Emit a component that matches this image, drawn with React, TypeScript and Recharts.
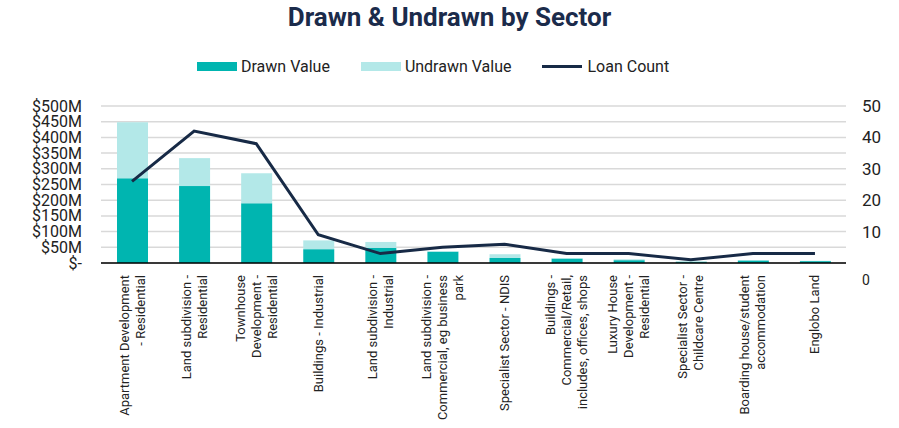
import { ComposedChart, Bar, Line, XAxis, YAxis, CartesianGrid } from "recharts";

const sectors = [
  "Apartment Development\n- Residential",
  "Land subdivision -\nResidential",
  "Townhouse\nDevelopment -\nResidential",
  "Buildings - Industrial",
  "Land subdivision -\nIndustrial",
  "Land subdivision -\nCommercial, eg business\npark",
  "Specialist Sector - NDIS",
  "Buildings -\nCommercial/Retail,\nincludes, offices, shops",
  "Luxury House\nDevelopment -\nResidential",
  "Specialist Sector -\nChildcare Centre",
  "Boarding house/student\naccommodation",
  "Englobo Land",
];
// $M
const drawnValue = [270, 245, 190, 44, 48, 36, 16, 14, 9, 3, 8, 6];
const undrawnValue = [178, 89, 96, 28, 19, 2, 12, 1, 3, 3, 1, 1];
const loanCount = [26, 42, 38, 9, 3, 5, 6, 3, 3, 1, 3, 3];
const leftTicks = [0, 50, 100, 150, 200, 250, 300, 350, 400, 450, 500];
const rightTicks = [0, 10, 20, 30, 40, 50];

const data = sectors.map((s, i) => ({
  sector: s,
  drawn: drawnValue[i],
  undrawn: undrawnValue[i],
  count: loanCount[i],
}));

const FONT = "Roboto, 'Liberation Sans', sans-serif";
const TEAL = "#00b5b0";
const LIGHT = "#b3e8e8";
const NAVY = "#172a46";

const SectorTick = ({ x, y, payload }: any) => {
  const lines = String(payload.value).split("\n");
  const n = lines.length;
  return (
    <g transform={`translate(${x},${y})`}>
      {lines.map((l, i) => (
        <text
          key={i}
          transform="rotate(-90)"
          x={-4}
          y={(i - (n - 1) / 2) * 16}
          textAnchor="end"
          dominantBaseline="central"
          fontSize={13}
          fontFamily={FONT}
          fill="#222"
        >
          {l}
        </text>
      ))}
    </g>
  );
};

const LeftTick = ({ y, payload }: any) => (
  <text x={82} y={y} textAnchor="end" dominantBaseline="central" fontSize={16} fontFamily={FONT} fill="#222">
    {payload.value === 0 ? "$-" : `$${payload.value}M`}
  </text>
);

const RightTick = ({ y, payload }: any) => (
  <text
    x={862}
    y={payload.value === 0 ? y + 17 : y}
    textAnchor="start"
    dominantBaseline="central"
    fontSize={payload.value === 0 ? 14 : 17}
    fontFamily={FONT}
    fill="#222"
  >
    {payload.value}
  </text>
);

export default function App() {
  return (
    <div style={{ position: "absolute", left: 0, top: 0, width: 899, height: 428, background: "#fff", fontFamily: FONT }}>
      <div style={{ position: "absolute", top: 2, left: 0, width: 899, textAlign: "center", fontSize: 26, fontWeight: 700, color: "#1b2b4b" }}>
        Drawn &amp; Undrawn by Sector
      </div>
      <div style={{ position: "absolute", top: 57, left: 197, display: "flex", alignItems: "center", fontSize: 16, color: "#222" }}>
        <span style={{ width: 40, height: 9, background: TEAL, marginRight: 4 }} />
        <span style={{ marginRight: 31 }}>Drawn Value</span>
        <span style={{ width: 40, height: 9, background: LIGHT, marginRight: 4 }} />
        <span style={{ marginRight: 31 }}>Undrawn Value</span>
        <span style={{ width: 40, height: 3, background: NAVY, marginRight: 5 }} />
        <span>Loan Count</span>
      </div>
      <ComposedChart width={899} height={428} data={data} margin={{ top: 106, right: 0, bottom: 0, left: 0 }}>
        <CartesianGrid vertical={false} stroke="#d9d9d9" strokeWidth={1.5} yAxisId="left" />
        <XAxis dataKey="sector" height={165} interval={0} tick={<SectorTick />} tickLine={false} axisLine={{ stroke: "#000", strokeWidth: 1.5 }} />
        <YAxis yAxisId="left" width={101} domain={[0, 500]} ticks={leftTicks} interval={0} tick={<LeftTick />} tickLine={false} axisLine={false} />
        <YAxis yAxisId="right" orientation="right" width={53} domain={[0, 50]} ticks={rightTicks} interval={0} tick={<RightTick />} tickLine={false} axisLine={false} />
        <Bar yAxisId="left" dataKey="drawn" stackId="a" fill={TEAL} barSize={31} isAnimationActive={false} />
        <Bar yAxisId="left" dataKey="undrawn" stackId="a" fill={LIGHT} barSize={31} isAnimationActive={false} />
        <Line yAxisId="right" dataKey="count" type="linear" stroke={NAVY} strokeWidth={3} dot={false} isAnimationActive={false} />
      </ComposedChart>
    </div>
  );
}
